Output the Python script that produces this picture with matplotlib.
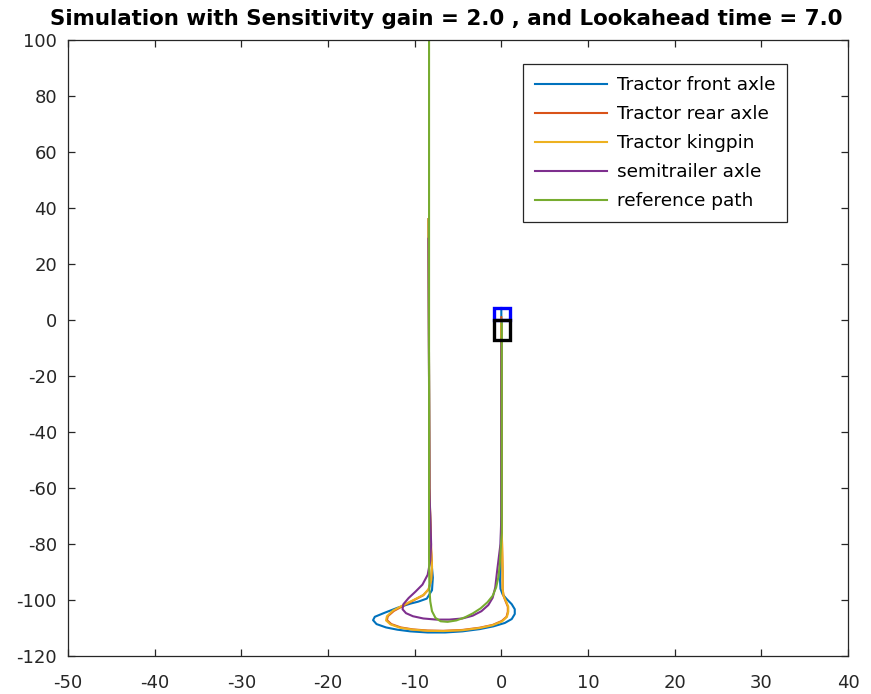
import matplotlib
matplotlib.use("Agg")
import matplotlib.pyplot as plt
from matplotlib.patches import Rectangle

plt.rcParams['font.family'] = ['DejaVu Sans']
plt.rcParams['axes.unicode_minus'] = False

title_text = "Simulation with Sensitivity gain = 2.0 , and Lookahead time = 7.0"
labels = ["Tractor front axle", "Tractor rear axle", "Tractor kingpin",
          "semitrailer axle", "reference path"]
colors = ["#0072BD", "#D95319", "#EDB120", "#7E2F8E", "#77AC30"]

x_ticks = list(range(-50, 41, 10))
y_ticks = list(range(-120, 101, 20))

# Tractor front axle trajectory
front_x = [-8.4, -8.3, -8.1, -7.9, -8.0, -8.6, -9.6, -10.5, -12.0, -13.5, -14.6,
           -14.8, -14.4, -13.3, -12.0, -10.5, -8.5, -6.5, -4.5, -2.5, -0.9, 0.4,
           1.2, 1.55, 1.55, 1.2, 0.6, 0.15, -0.1, -0.15, -0.1, 0.0, 0.0]
front_y = [36, -60, -85, -92, -96.5, -99.5, -100.6, -101.3, -102.8, -104.6, -106.0,
           -107.2, -108.6, -109.8, -110.6, -111.2, -111.6, -111.6, -111.2, -110.4,
           -109.4, -108.2, -106.8, -105.0, -103.3, -101.5, -99.6, -98.0, -96.0,
           -93.0, -88.0, -70.0, 4.3]

# Tractor rear axle trajectory
rear_x = [-8.4, -8.3, -8.1, -8.0, -8.1, -8.4, -9.0, -10.0, -11.2, -12.4, -13.1,
          -13.2, -12.7, -11.6, -10.2, -8.5, -6.7, -4.5, -2.5, -1.0, 0.05, 0.6,
          0.75, 0.75, 0.5, 0.25, 0.15, 0.15, 0.05, 0.0]
rear_y = [36, -60, -82, -88, -93, -96.2, -98.3, -99.9, -101.9, -103.9, -105.8,
          -107.2, -108.6, -109.8, -110.5, -110.9, -111.0, -110.7, -109.9, -108.9,
          -107.5, -106.0, -104.2, -102.4, -100.5, -98.5, -96.0, -90.0, -75.0, 1.0]

# Tractor kingpin trajectory
king_x = [-8.4, -8.3, -8.1, -8.0, -8.1, -8.4, -9.0, -10.0, -11.3, -12.5, -13.2,
          -13.3, -12.8, -11.7, -10.2, -8.5, -6.7, -4.5, -2.5, -1.0, 0.1, 0.65,
          0.8, 0.8, 0.55, 0.25, 0.15, 0.15, 0.05, 0.0]
king_y = [36, -60, -82, -88, -93, -96.2, -98.2, -99.8, -101.8, -103.8, -105.8,
          -107.3, -108.7, -109.9, -110.6, -111.0, -111.1, -110.8, -110.0, -109.0,
          -107.6, -106.0, -104.2, -102.4, -100.5, -98.5, -96.0, -90.0, -75.0, 0.13]

# Semitrailer axle trajectory
trail_x = [-8.4, -8.3, -8.1, -8.2, -8.5, -9.1, -9.9, -10.7, -11.3, -11.4, -11.0,
           -10.2, -9.0, -7.5, -6.0, -4.5, -3.3, -2.3, -1.5, -1.0, -0.7, -0.5,
           -0.3, -0.1, 0.0, 0.0]
trail_y = [29, -60, -80, -86, -91, -94.5, -97.0, -99.3, -101.5, -103.3, -104.7,
           -105.8, -106.6, -107.0, -107.0, -106.6, -105.6, -104.0, -101.8, -99.2,
           -95.5, -90.0, -85.0, -80.0, -70.0, -7.0]

# Reference path
ref_x = [-8.34, -8.34, -8.3, -8.2, -8.0, -7.6, -7.0, -6.2, -5.2, -4.2, -3.3,
         -2.4, -1.6, -1.0, -0.6, -0.35, -0.2, -0.1, 0.05, 0.05]
ref_y = [100, -85, -96, -100.5, -104, -106.4, -107.6, -107.8, -107.3, -106.2,
         -104.8, -103.0, -100.8, -98.5, -95.5, -92.0, -88.0, -83.0, -76.0, 0.0]

# Vehicle outlines: (x0, y0, width, height)
tractor_box = (-0.85, 0.13, 1.8, 4.17)
trailer_box = (-0.85, -7.0, 1.8, 7.13)

series = [(front_x, front_y), (rear_x, rear_y), (king_x, king_y),
          (trail_x, trail_y), (ref_x, ref_y)]

fig = plt.figure(figsize=(8.71, 6.94), dpi=100)
ax = fig.add_axes([68 / 871, 38 / 694, 780 / 871, 616 / 694])

for (xs, ys), c, lab in zip(series, colors, labels):
    ax.plot(xs, ys, color=c, lw=1.5, label=lab)

ax.add_patch(Rectangle(tractor_box[:2], tractor_box[2], tractor_box[3],
                       fill=False, edgecolor="#0000FF", lw=2.4, zorder=5))
ax.add_patch(Rectangle(trailer_box[:2], trailer_box[2], trailer_box[3],
                       fill=False, edgecolor="#000000", lw=2.4, zorder=6))

ax.set_xlim(-50, 40)
ax.set_ylim(-120, 100)
ax.set_xticks(x_ticks)
ax.set_yticks(y_ticks)

axis_gray = "#262626"
for sp in ax.spines.values():
    sp.set_color(axis_gray)
    sp.set_linewidth(0.9)
ax.tick_params(direction="in", length=5, width=0.9, colors=axis_gray,
               labelsize=13, top=True, right=True)
ax.tick_params(axis="y", pad=8)
ax.tick_params(axis="x", pad=13)

ax.set_title(title_text, fontsize=15.4, fontweight="bold", pad=11, x=0.485)

leg = ax.legend(loc="upper right", bbox_to_anchor=(0.922, 0.961),
                borderaxespad=0, fancybox=False, framealpha=1,
                edgecolor=axis_gray, fontsize=13.3, handlelength=3.9,
                handletextpad=0.5, labelspacing=0.6, borderpad=0.65)
leg.get_frame().set_linewidth(0.9)

fig.savefig("out.png", dpi=100)
